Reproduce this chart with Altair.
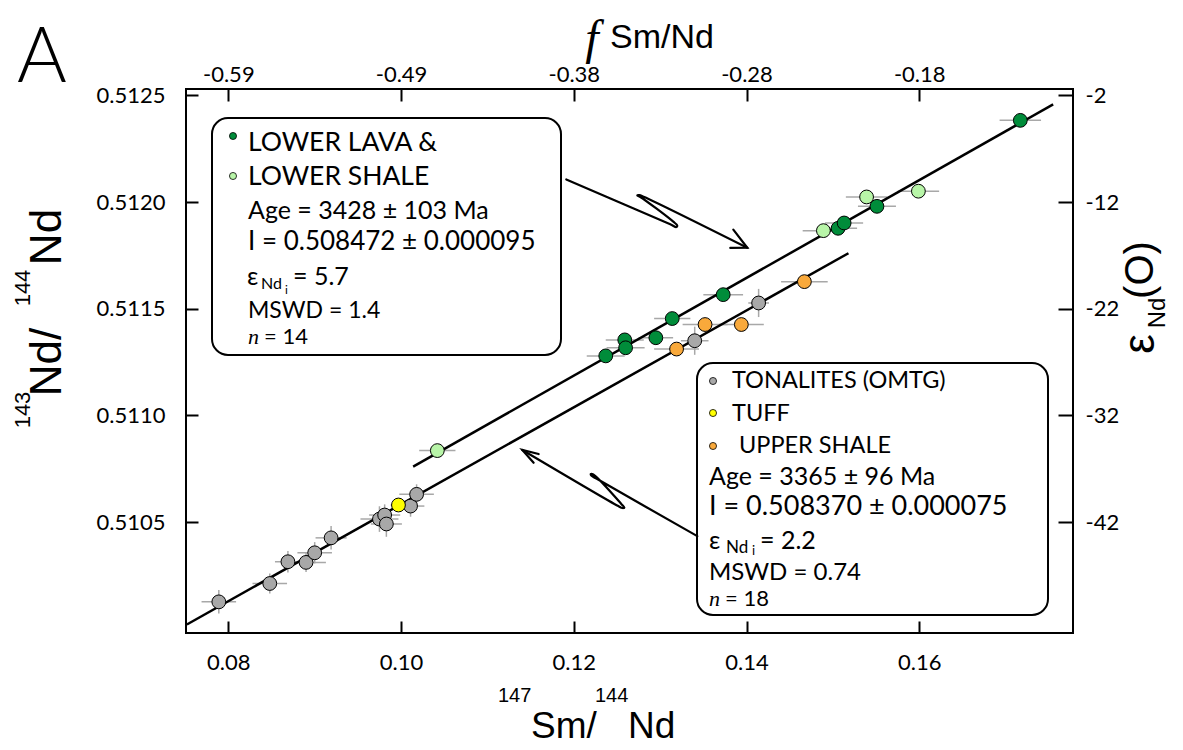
import altair as alt
import pandas as pd

# ---------------- data ----------------
tonalite_x = [0.0789, 0.0848, 0.0869, 0.0890, 0.0900, 0.0919, 0.0975, 0.0981, 0.0983, 0.1011, 0.1018, 0.1340, 0.1414]
tonalite_y = [0.510126, 0.510212, 0.510314, 0.510311, 0.510356, 0.510426, 0.510514, 0.510533, 0.510491, 0.510575, 0.510630, 0.511350, 0.511527]
tonalite_xerr = [0.0020, 0.0020, 0.0015, 0.0023, 0.0020, 0.0018, 0.0022, 0.0018, 0.0018, 0.0016, 0.0020, 0.0016, 0.0012]
tonalite_yerr = [0.000055, 0.000047, 0.000050, 0.000045, 0.000050, 0.000055, 0.000060, 0.000050, 0.000060, 0.000050, 0.000047, 0.000066, 0.000066]

tuff_x = [0.0997]
tuff_y = [0.510580]
tuff_xerr = [0.0009]
tuff_yerr = [0.00001]

upper_shale_x = [0.1319, 0.1352, 0.1394, 0.1467]
upper_shale_y = [0.511311, 0.511426, 0.511426, 0.511627]
upper_shale_xerr = [0.0026, 0.0026, 0.0026, 0.0027]
upper_shale_yerr = [0.000015, 0.000015, 0.000015, 0.000015]

lower_lava_x = [0.1237, 0.1259, 0.1260, 0.1295, 0.1314, 0.1373, 0.1506, 0.1513, 0.1551, 0.1717]
lower_lava_y = [0.511279, 0.511354, 0.511317, 0.511364, 0.511454, 0.511566, 0.511877, 0.511902, 0.511980, 0.512383]
lower_lava_xerr = [0.0022, 0.0022, 0.0022, 0.0020, 0.0021, 0.0023, 0.0022, 0.0022, 0.0022, 0.0024]
lower_lava_yerr = [0.00001] * 10

lower_shale_x = [0.1042, 0.1489, 0.1539, 0.1599]
lower_shale_y = [0.510835, 0.511866, 0.512024, 0.512051]
lower_shale_xerr = [0.0021, 0.0024, 0.0024, 0.0024]
lower_shale_yerr = [0.00001] * 4

groups = ["TONALITES (OMTG)", "TUFF", "UPPER SHALE", "LOWER LAVA", "LOWER SHALE"]
group_colors = ["#a8a8a8", "#ffff00", "#f9a93b", "#008c3a", "#b8f5a8"]

# isochron lines (end points)
iso1_x = [0.1014, 0.1755]
iso1_y = [0.510760, 0.512458]
iso2_x = [0.0752, 0.1518]
iso2_y = [0.510020, 0.511760]

# annotation arrows (with the broken "Z" loop), in data units
arrow1_x = [0.11913, 0.13117, 0.13187, 0.13198, 0.13152, 0.12770, 0.12735, 0.12758, 0.12816, 0.14009]
arrow1_y = [0.512106, 0.511896, 0.511883, 0.511890, 0.511908, 0.512024, 0.512031, 0.512033, 0.512024, 0.511786]
head1_x = [0.13847, 0.14009, 0.13812]
head1_y = [0.511871, 0.511786, 0.511785]
arrow2_x = [0.13430, 0.12261, 0.12203, 0.12197, 0.12226, 0.12550, 0.12585, 0.12562, 0.12515, 0.11404]
arrow2_y = [0.510434, 0.510704, 0.510718, 0.510725, 0.510723, 0.510585, 0.510568, 0.510566, 0.510575, 0.510838]
head2_x = [0.11535, 0.11404, 0.11593]
head2_y = [0.510778, 0.510838, 0.510819]

# axes
x_ticks = [0.08, 0.10, 0.12, 0.14, 0.16]
f_labels = ["-0.59", "-0.49", "-0.38", "-0.28", "-0.18"]
y_ticks = [0.5105, 0.5110, 0.5115, 0.5120, 0.5125]
eps_labels = ["-42", "-32", "-22", "-12", "-2"]
x_domain = [0.0751, 0.1778]
y_domain = [0.50998, 0.51253]

# ---------------- build tables ----------------
rows = []
def add(g, xs_, ys_, xe, ye):
    for a, b, c, d in zip(xs_, ys_, xe, ye):
        rows.append({"group": g, "x": a, "y": b, "xlo": a - c, "xhi": a + c, "ylo": b - d, "yhi": b + d})
add("TONALITES (OMTG)", tonalite_x, tonalite_y, tonalite_xerr, tonalite_yerr)
add("TUFF", tuff_x, tuff_y, tuff_xerr, tuff_yerr)
add("UPPER SHALE", upper_shale_x, upper_shale_y, upper_shale_xerr, upper_shale_yerr)
add("LOWER LAVA", lower_lava_x, lower_lava_y, lower_lava_xerr, lower_lava_yerr)
add("LOWER SHALE", lower_shale_x, lower_shale_y, lower_shale_xerr, lower_shale_yerr)
df = pd.DataFrame(rows)

lines = pd.DataFrame(
    [{"id": "iso1", "i": i, "x": a, "y": b} for i, (a, b) in enumerate(zip(iso1_x, iso1_y))]
    + [{"id": "iso2", "i": i, "x": a, "y": b} for i, (a, b) in enumerate(zip(iso2_x, iso2_y))]
)
arrows = pd.DataFrame(
    [{"id": "a1", "i": i, "x": a, "y": b} for i, (a, b) in enumerate(zip(arrow1_x, arrow1_y))]
    + [{"id": "a2", "i": i, "x": a, "y": b} for i, (a, b) in enumerate(zip(arrow2_x, arrow2_y))]
)
heads = pd.DataFrame(
    [{"id": "h1", "i": i, "x": a, "y": b} for i, (a, b) in enumerate(zip(head1_x, head1_y))]
    + [{"id": "h2", "i": i, "x": a, "y": b} for i, (a, b) in enumerate(zip(head2_x, head2_y))]
)

SANS = "Lato"
TITLE = "Liberation Sans, Arial, sans-serif"
SERIF = "Liberation Serif, DejaVu Serif, serif"

xs = alt.Scale(domain=x_domain, nice=False, zero=False)
ys = alt.Scale(domain=y_domain, nice=False, zero=False)

def chain(vals, labels):
    expr = "''"
    for v, l in zip(vals[::-1], labels[::-1]):
        expr = f"abs(datum.value - {v}) < 1e-6 ? '{l}' : ({expr})"
    return expr

bottom_axis = alt.Axis(orient="bottom", values=x_ticks, format=".2f", title=None, offset=-12,
                       tickSize=12, labelPadding=19, domain=False, grid=False)
left_axis = alt.Axis(orient="left", values=y_ticks, format=".4f", title=None, offset=-12,
                     tickSize=12, labelPadding=21, domain=False, grid=False)
top_axis = alt.Axis(orient="top", values=x_ticks, labelExpr=chain(x_ticks, f_labels), title=None,
                    offset=-12, tickSize=12, labelPadding=3, domain=False, grid=False)
right_axis = alt.Axis(orient="right", values=y_ticks, labelExpr=chain(y_ticks, eps_labels), title=None,
                      offset=-15, tickSize=15, labelPadding=12, domain=False, grid=False)

hbars = alt.Chart(df).mark_rule(color="#a8a8a8", strokeWidth=1.5).encode(
    x=alt.X("xlo:Q", scale=xs, axis=None), x2="xhi:Q", y=alt.Y("y:Q", scale=ys, axis=None))
vbars = alt.Chart(df).mark_rule(color="#a8a8a8", strokeWidth=1.5).encode(
    x=alt.X("x:Q", scale=xs, axis=None), y=alt.Y("ylo:Q", scale=ys, axis=None), y2="yhi:Q")

iso = alt.Chart(lines).mark_line(color="black", strokeWidth=2.5).encode(
    x=alt.X("x:Q", scale=xs, axis=None), y=alt.Y("y:Q", scale=ys, axis=None),
    detail="id:N", order="i:Q")

arr = alt.Chart(arrows).mark_line(color="black", strokeWidth=2.2, strokeJoin="round",
                                  strokeCap="round", interpolate="catmull-rom").encode(
    x=alt.X("x:Q", scale=xs, axis=None), y=alt.Y("y:Q", scale=ys, axis=None),
    detail="id:N", order="i:Q")
hd = alt.Chart(heads).mark_line(color="black", strokeWidth=2.2, strokeJoin="miter",
                                strokeCap="round").encode(
    x=alt.X("x:Q", scale=xs, axis=None), y=alt.Y("y:Q", scale=ys, axis=None),
    detail="id:N", order="i:Q")

pts = alt.Chart(df).mark_circle(size=190, opacity=1, stroke="black", strokeWidth=1).encode(
    x=alt.X("x:Q", scale=xs, axis=bottom_axis),
    y=alt.Y("y:Q", scale=ys, axis=left_axis),
    fill=alt.Fill("group:N", scale=alt.Scale(domain=groups, range=group_colors), legend=None),
)

axes2 = alt.Chart(df).mark_circle(opacity=0).encode(
    x=alt.X("x:Q", scale=xs, axis=top_axis),
    y=alt.Y("y:Q", scale=ys, axis=right_axis),
)

one = pd.DataFrame({"k": [0]})

def txt(t, x, y, size, font=SANS, align="left", baseline="middle", angle=0, style="normal", weight="normal"):
    return alt.Chart(one).mark_text(text=t, x=x, y=y, fontSize=size, font=font, align=align,
                                    baseline=baseline, angle=angle, fontStyle=style,
                                    fontWeight=weight, color="black").encode(opacity=alt.value(1))

def dot(x, y, color):
    return alt.Chart(one).mark_circle(x=x, y=y, size=50, color=color, opacity=1,
                                      stroke="black", strokeWidth=0.8).encode(opacity=alt.value(1))

def box(x, y, x2, y2):
    return alt.Chart(one).mark_rect(x=x, y=y, x2=x2, y2=y2, cornerRadius=16, fill="white",
                                    fillOpacity=0, stroke="black", strokeWidth=2).encode(opacity=alt.value(1))

deco = [
    # panel letter
    txt("A", -144, -30, 76, font=SANS, align="center", weight=300),
    # top title
    txt("f", 406, -49, 48, font=SERIF, align="center", style="italic"),
    txt("Sm/Nd", 424, -51, 34, font=TITLE),
    # bottom title
    txt("147", 312, 607, 20, font=TITLE),
    txt("Sm/", 345, 649, 37, font=TITLE, baseline="alphabetic"),
    txt("144", 409, 607, 20, font=TITLE),
    txt("Nd", 442, 649, 37, font=TITLE, baseline="alphabetic"),
    # left title (rotated)
    txt("143", -163, 321, 22, font=TITLE, align="center", angle=270),
    txt("Nd/", -138, 273, 44, font=TITLE, align="center", angle=270),
    txt("144", -163, 199, 22, font=TITLE, align="center", angle=270),
    txt("Nd", -138, 148, 44, font=TITLE, align="center", angle=270),
    # right title (rotated)
    txt("\u03b5", 955, 255, 44, font=TITLE, align="center", angle=270),
    txt("Nd", 972, 224, 24, font=TITLE, align="center", angle=270),
    txt("(O)", 955, 181, 40, font=TITLE, align="center", angle=270),
    # box 1
    box(26, 29, 375, 266),
    dot(47, 47, "#008c3a"),
    txt("LOWER LAVA &", 62, 54, 26.5),
    dot(47, 87, "#b8f5a8"),
    txt("LOWER SHALE", 62, 88, 26.5),
    txt("Age = 3428 \u00b1 103 Ma", 62, 122, 25),
    txt("I = 0.508472 \u00b1 0.000095", 62, 153, 26),
    txt("\u03b5", 61, 188, 25),
    txt("Nd", 75, 195, 16),
    txt("i", 99, 201, 12),
    txt("= 5.7", 107, 188, 25),
    txt("MSWD = 1.4", 62, 222, 23),
    txt("n", 62, 248, 22, font=SERIF, style="italic"),
    txt("= 14", 78, 248, 22),
    # box 2
    box(511, 274, 862, 526),
    dot(527, 292, "#a8a8a8"),
    txt("TONALITES (OMTG)", 546, 292, 23.5),
    dot(527, 324, "#ffff00"),
    txt("TUFF", 546, 325, 23.5),
    dot(527, 357, "#f9a93b"),
    txt("UPPER SHALE", 553, 357, 23.5),
    txt("Age = 3365 \u00b1 96 Ma", 523, 388, 25),
    txt("I = 0.508370 \u00b1 0.000075", 523, 418, 27),
    txt("\u03b5", 523, 452, 25),
    txt("Nd", 540, 459, 17),
    txt("i", 566, 462, 13),
    txt("= 2.2", 574, 452, 25),
    txt("MSWD = 0.74", 523, 484, 24),
    txt("n", 523, 510, 22, font=SERIF, style="italic"),
    txt("= 18", 539, 510, 22),
]

chart = alt.layer(hbars, vbars, iso, arr, hd, pts, axes2, *deco).resolve_axis(
    x="independent", y="independent"
).properties(
    width=887, height=544,
    autosize=alt.AutoSizeParams(type="none"),
    padding={"left": 178, "top": 81, "right": 100, "bottom": 112},
).configure_view(
    stroke="black", strokeWidth=2
).configure_axis(
    labelFont=SANS, labelFontSize=22, labelColor="black", tickColor="black", tickWidth=2,
    labelFontWeight="normal"
)

chart.save("out.html", embed_options={"renderer": "svg", "actions": False})
